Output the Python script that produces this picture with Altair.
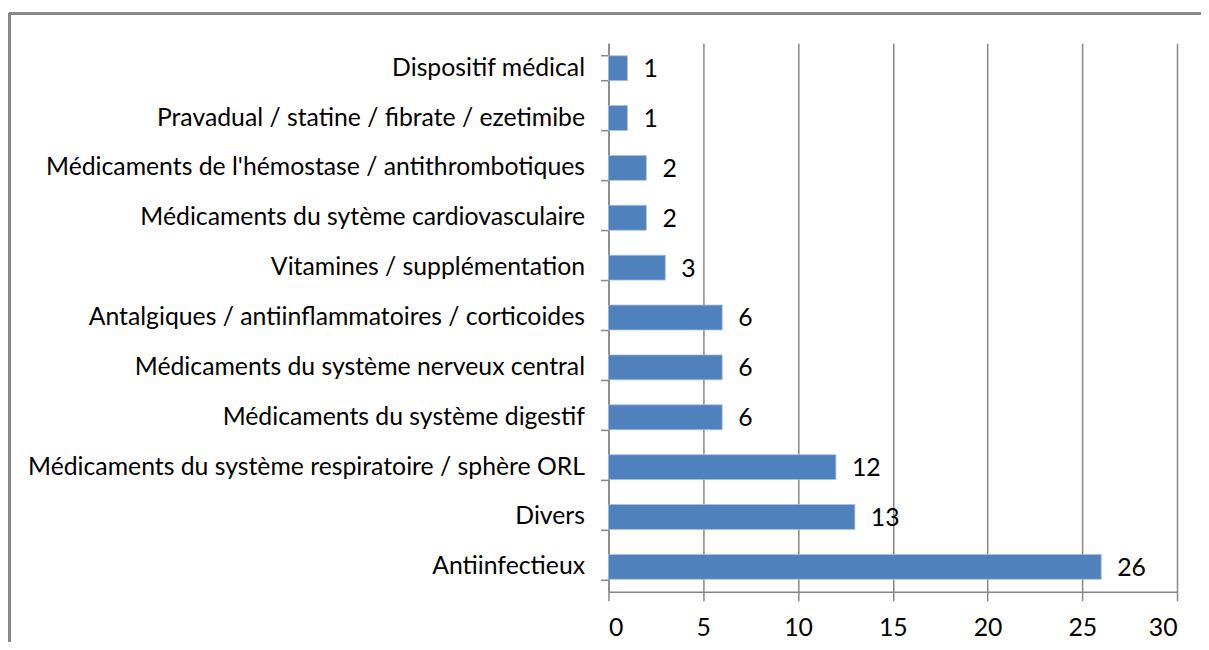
import altair as alt
import pandas as pd

categories = [
    "Dispositif médical",
    "Pravadual / statine / fibrate / ezetimibe",
    "Médicaments de l'hémostase / antithrombotiques",
    "Médicaments du sytème cardiovasculaire",
    "Vitamines / supplémentation",
    "Antalgiques / antiinflammatoires / corticoides",
    "Médicaments du système nerveux central",
    "Médicaments du système digestif",
    "Médicaments du système respiratoire / sphère ORL",
    "Divers",
    "Antiinfectieux",
]
values = [1, 1, 2, 2, 3, 6, 6, 6, 12, 13, 26]
x_ticks = [0, 5, 10, 15, 20, 25, 30]

df = pd.DataFrame({"cat": categories, "val": values})

FONT = "Lato"
FS = 24.8
GRAY = "#878787"

y_enc = alt.Y(
    "cat:N",
    sort=categories,
    scale=alt.Scale(paddingInner=0.5, paddingOuter=0.25),
    axis=alt.Axis(
        title=None,
        tickBand="extent",
        tickSize=8,
        tickColor=GRAY,
        tickWidth=1.5,
        domainColor=GRAY,
        domainWidth=1.5,
        labelFont=FONT,
        labelFontSize=FS,
        labelColor="black",
        labelPadding=16,
        labelLimit=700,
        grid=False,
    ),
)

x_enc = alt.X(
    "val:Q",
    scale=alt.Scale(domain=[0, 30], nice=False),
    axis=alt.Axis(
        title=None,
        values=x_ticks,
        tickSize=9,
        tickColor=GRAY,
        tickWidth=1.5,
        domainColor=GRAY,
        domainWidth=1.5,
        grid=True,
        gridColor=GRAY,
        gridWidth=1.5,
        labelFont=FONT,
        labelFontSize=FS,
        labelColor="black",
        labelPadding=15,
    ),
)

bars = alt.Chart(df).mark_bar(color="#4f81bd", stroke="#a9c0de", strokeWidth=0.8).encode(
    x=x_enc, y=y_enc
)

labels = alt.Chart(df).mark_text(
    align="left", baseline="middle", dx=16, dy=2, font=FONT, fontSize=FS, color="black"
).encode(x="val:Q", y=alt.Y("cat:N", sort=categories), text="val:Q")

frame_top = alt.Chart(df).mark_rule(color=GRAY, strokeWidth=2, clip=False).encode(
    x=alt.value(-600), x2=alt.value(640), y=alt.value(-29.5)
)
frame_left = alt.Chart(df).mark_rule(color=GRAY, strokeWidth=2, clip=False).encode(
    x=alt.value(-599.5), y=alt.value(-30), y2=alt.value(640)
)

chart = (
    alt.layer(bars, labels, frame_top, frame_left)
    .properties(
        width=569,
        height=549,
        autosize=alt.AutoSizeParams(type="none"),
        padding={"left": 601, "top": 35, "right": 24, "bottom": 50},
        background="white",
    )
    .configure_view(stroke=None)
)

chart.save("out.html", embed_options={"renderer": "svg", "actions": False})
